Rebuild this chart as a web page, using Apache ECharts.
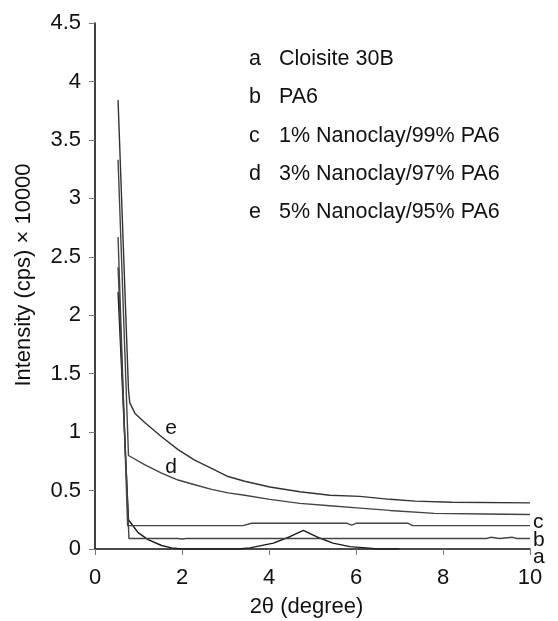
<!DOCTYPE html>
<html>
<head>
<meta charset="utf-8">
<script src="https://cdn.jsdelivr.net/npm/echarts@6/dist/echarts.min.js"></script>
<style>html,body{margin:0;padding:0;background:#fff}#chart{width:558px;height:621px}</style>
</head>
<body>
<div id="chart"></div>
<script>
// Curve data: [2θ (degree), intensity (cps ×10000)]
const curveA = [[0.53,2.2],[0.77,0.25],[0.99,0.14],[1.22,0.08],[1.53,0.03],[1.76,0.01],[2.0,0],[3.3,0],[3.56,0.01],[4.1,0.05],[4.48,0.105],[4.79,0.16],[5.09,0.105],[5.47,0.05],[5.86,0.02],[6.23,0.01],[6.5,0],[7.0,0]];
const curveB = [[0.53,2.41],[0.78,0.09],[1.9,0.09],[2.0,0.085],[2.1,0.09],[9.0,0.09],[9.1,0.1],[9.3,0.09],[9.6,0.1],[9.7,0.09],[10,0.09]];
const curveC = [[0.53,2.67],[0.75,0.2],[3.4,0.2],[3.6,0.22],[5.8,0.22],[5.9,0.205],[6.0,0.22],[7.2,0.22],[7.3,0.2],[10,0.2]];
const curveD = [[0.53,3.33],[0.77,0.80],[1.15,0.72],[1.53,0.65],[1.91,0.59],[2.29,0.55],[2.68,0.51],[3.06,0.48],[3.44,0.46],[4.02,0.425],[4.71,0.39],[5.4,0.37],[6.09,0.35],[6.78,0.33],[7.8,0.305],[8.95,0.30],[10,0.295]];
const curveE = [[0.53,3.84],[0.77,1.36],[0.80,1.25],[0.92,1.16],[1.15,1.08],[1.53,0.96],[1.91,0.85],[2.29,0.76],[2.68,0.69],[3.06,0.62],[3.44,0.58],[4.02,0.53],[4.71,0.49],[5.4,0.46],[6.09,0.45],[6.78,0.425],[7.36,0.41],[8.2,0.40],[10,0.395]];

const legendLetters = ['a','b','c','d','e'];
const legendNames = ['Cloisite 30B','PA6','1% Nanoclay/99% PA6','3% Nanoclay/97% PA6','5% Nanoclay/95% PA6'];
// curve tag labels placed at data positions
const tagLabels = [
  {name:'e', value:[1.75,1.03]},
  {name:'d', value:[1.75,0.70]}
];
const endTags = [
  {name:'c', value:[10,0.2]},
  {name:'b', value:[10,0.09]},
  {name:'a', value:[10,0]}
];
const endTagOffsets = {c:[0,-3.5], b:[0,1.5], a:[0,8]};

const FONT = 'Liberation Sans, Arial, sans-serif';
const chart = echarts.init(document.getElementById('chart'), null, {renderer:'canvas'});

function lineSeries(name, data, color){
  return {name, type:'line', data, symbol:'none', showSymbol:false, silent:true,
    lineStyle:{color, width:1.4}, animation:false, z:3};
}

const legendGraphics = [];
legendLetters.forEach((l,i)=>{
  const y = 60 + i*38.3;
  legendGraphics.push({type:'text', left:249, top:y-12, style:{text:l, font:'21.5px '+FONT, fill:'#111'}});
  legendGraphics.push({type:'text', left:279, top:y-12, style:{text:legendNames[i], font:'21.5px '+FONT, fill:'#111'}});
});

const tagLabelStyle = {show:true, formatter:p=>p.name, fontSize:21, color:'#111', fontFamily:FONT,
  opacity:1, textBorderWidth:0};

chart.setOption({
  animation:false,
  backgroundColor:'#fff',
  grid:{left:95, right:28, top:23, bottom:72, containLabel:false, outerBoundsMode:'none'},
  xAxis:{type:'value', min:0, max:10, interval:2,
    name:'2θ (degree)', nameLocation:'middle', nameGap:47,
    nameTextStyle:{fontSize:22, color:'#111', fontFamily:FONT, padding:[0,12,0,0]},
    axisLine:{show:true, onZero:false, lineStyle:{color:'#111', width:1.6}},
    axisTick:{show:true, inside:false, length:6, lineStyle:{color:'#777', width:1}},
    axisLabel:{fontSize:22, color:'#111', fontFamily:FONT, margin:18},
    splitLine:{show:false}},
  yAxis:{type:'value', min:0, max:4.5, interval:0.5,
    name:'Intensity (cps) × 10000', nameLocation:'middle', nameRotate:90, nameGap:60,
    nameTextStyle:{fontSize:22, color:'#111', fontFamily:FONT, padding:[0,0,0,22]},
    axisLine:{show:true, onZero:false, lineStyle:{color:'#111', width:1.6}},
    axisTick:{show:true, inside:false, length:6, lineStyle:{color:'#777', width:1}},
    axisLabel:{fontSize:22, color:'#111', fontFamily:FONT, margin:14},
    splitLine:{show:false}},
  graphic: legendGraphics,
  series:[
    lineSeries('a', curveA, '#1a1a1a'),
    lineSeries('b', curveB, '#444'),
    lineSeries('c', curveC, '#444'),
    lineSeries('d', curveD, '#444'),
    lineSeries('e', curveE, '#333'),
    {type:'scatter', data:tagLabels, symbolSize:0, silent:true, clip:false, itemStyle:{opacity:1},
      label:Object.assign({position:'right', distance:0, align:'center', verticalAlign:'middle'}, tagLabelStyle)},
    {type:'scatter', data:endTags.map(t=>({name:t.name, value:t.value,
        label:{offset:endTagOffsets[t.name]}})), symbolSize:0, silent:true, clip:false, itemStyle:{opacity:1},
      label:Object.assign({position:'right', distance:3, verticalAlign:'middle', lineHeight:16}, tagLabelStyle)}
  ]
});
</script>
</body>
</html>
